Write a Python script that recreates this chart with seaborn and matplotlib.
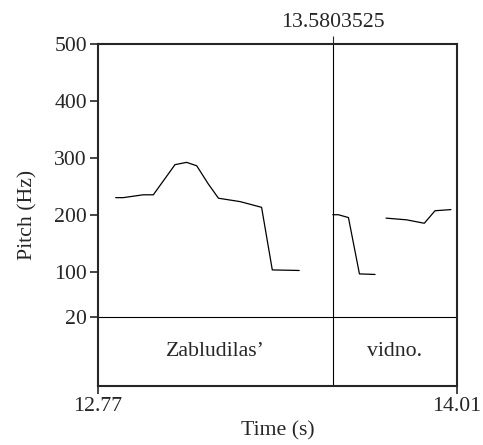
import pandas as pd
import matplotlib
matplotlib.use("Agg")
import matplotlib.pyplot as plt
import seaborn as sns

# pitch contour, three voiced stretches
seg1_t = [12.831, 12.857, 12.926, 12.961, 13.036, 13.076, 13.111, 13.151, 13.186, 13.261, 13.335, 13.372, 13.465]
seg1_f = [230, 230, 235, 235, 288, 292, 286, 254, 229, 223, 213, 103, 102]
seg2_t = [13.581, 13.600, 13.635, 13.673, 13.727]
seg2_f = [200, 200, 195, 96, 95]
seg3_t = [13.765, 13.836, 13.897, 13.934, 13.989]
seg3_f = [194, 191, 185, 207, 209]

words = ["Zabludilas\u2019", "vidno."]
bounds = [12.77, 13.5803525, 14.01]
yticks = [20, 100, 200, 300, 400, 500]

df = pd.concat([
    pd.DataFrame({"t": seg1_t, "f0": seg1_f, "seg": 1}),
    pd.DataFrame({"t": seg2_t, "f0": seg2_f, "seg": 2}),
    pd.DataFrame({"t": seg3_t, "f0": seg3_f, "seg": 3}),
])

sns.set_style("ticks")
plt.rcParams["font.family"] = ["Liberation Serif", "DejaVu Serif"]
fs = 15.7

fig = plt.figure(figsize=(4.83, 4.45), dpi=100)
ax = fig.add_axes([0.2029, 0.1326, 0.7433, 0.7685])

sns.lineplot(data=df, x="t", y="f0", units="seg", estimator=None, sort=False,
             color="black", linewidth=0.9, ax=ax, legend=False)

ax.set_xlim(bounds[0], bounds[-1])
ax.set_ylim(-101, 500)

# tier divider and interval boundary
ax.axhline(20, color="black", linewidth=0.8)
ax.axvline(bounds[1], color="black", linewidth=0.8)
for i, w in enumerate(words):
    ax.text((bounds[i] + bounds[i + 1]) / 2, -40, w, ha="center", va="center", fontsize=fs)

ax.set_yticks(yticks)
ax.set_xticks([bounds[0], bounds[-1]])
ax.set_xticklabels(["12.77", "14.01"])
ax.set_xlabel("Time (s)", fontsize=fs, labelpad=4)
ax.set_ylabel("Pitch (Hz)", fontsize=fs, labelpad=12)
ax.tick_params(axis="both", direction="out", length=6, width=1.2, labelsize=fs, pad=2)

top = ax.secondary_xaxis("top")
top.set_xticks([bounds[1]])
top.set_xticklabels(["13.5803525"])
top.tick_params(direction="out", length=6, width=0.8, labelsize=fs, pad=3)
top.spines["top"].set_visible(False)

for s in ax.spines.values():
    s.set_linewidth(1.5)
    s.set_visible(True)

fig.savefig("out.png", dpi=100)
